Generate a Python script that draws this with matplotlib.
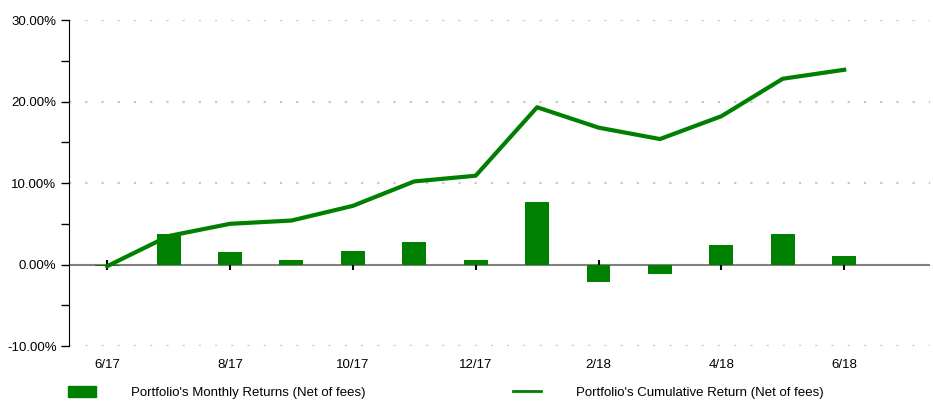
import matplotlib
matplotlib.use("Agg")
import matplotlib.pyplot as plt
from matplotlib.ticker import FuncFormatter, MultipleLocator
from matplotlib.lines import Line2D
from matplotlib.patches import Patch

# --------------- [Data] --------------- #
months = ["6/17", "7/17", "8/17", "9/17", "10/17", "11/17", "12/17",
          "1/18", "2/18", "3/18", "4/18", "5/18", "6/18"]
monthly = [-0.2, 3.7, 1.6, 0.5, 1.7, 2.8, 0.6, 7.7, -2.2, -1.2, 2.45, 3.8, 1.0]
cumulative = [-0.2, 3.5, 5.0, 5.4, 7.2, 10.2, 10.9, 19.3, 16.8, 15.4, 18.2, 22.8, 23.9]

green = "#008000"
plt.rcParams["font.family"] = ["Liberation Sans", "DejaVu Sans"]
fs = 9.5

fig = plt.figure(figsize=(9.33, 4.01), dpi=100)
ax = fig.add_axes([0.074, 0.137, 0.923, 0.813])

x = list(range(len(months)))
ax.bar(x, monthly, width=0.39, color=green, zorder=3)
ax.plot(x, cumulative, color=green, lw=3, zorder=4)

ax.set_ylim(-10, 30)
ax.set_xlim(-0.62, 13.4)
ax.yaxis.set_major_locator(MultipleLocator(10))
ax.yaxis.set_minor_locator(MultipleLocator(5))
ax.yaxis.set_major_formatter(FuncFormatter(lambda v, p: f"{v:.2f}%"))
ax.tick_params(axis="y", which="both", direction="out", length=6, width=1,
               labelsize=fs, colors="black", pad=3)

# dotted gridlines, solid zero line
for v in [30, 20, 10, -10]:
    ax.axhline(v, color="#c8c8c8", lw=1.6, ls=(0, (1, 6.3)), zorder=1)
ax.axhline(0, color="#808080", lw=1.5, zorder=2)

# x ticks: labels at bottom, tick marks on the zero line
tick_idx = x[::2]
ax.set_xticks(tick_idx)
ax.set_xticklabels(months[::2])
ax.tick_params(axis="x", length=0, labelsize=fs, pad=9)
ax.plot(tick_idx, [0] * len(tick_idx), ls="none", marker="|", ms=7, mew=1.5,
        color="black", zorder=2.5)

for s in ["top", "right", "bottom"]:
    ax.spines[s].set_visible(False)
ax.spines["left"].set_color("black")

leg_kw = dict(loc="center left", frameon=False, fontsize=fs, borderpad=0,
              borderaxespad=0, handlelength=2.1, handleheight=0.9,
              handletextpad=2.7)
fig.legend([Patch(color=green)], ["Portfolio's Monthly Returns (Net of fees)"],
           bbox_to_anchor=(68 / 933, 0.022), **leg_kw)
fig.legend([Line2D([0], [0], color=green, lw=2)],
           ["Portfolio's Cumulative Return (Net of fees)"],
           bbox_to_anchor=(513 / 933, 0.022), **leg_kw)

fig.savefig("out.png", dpi=100)
